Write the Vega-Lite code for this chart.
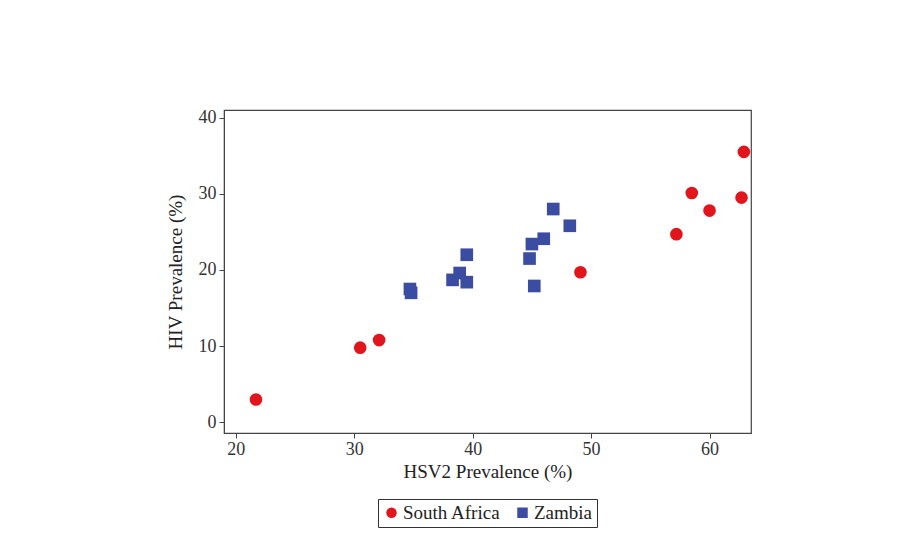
{
  "$schema": "https://vega.github.io/schema/vega-lite/v6.json",
  "autosize": "none",
  "width": 527,
  "height": 323,
  "padding": {"left": 224, "top": 110, "right": 156, "bottom": 114},
  "background": "white",
  "config": {
    "view": {"stroke": "#444", "strokeWidth": 1.2},
    "font": "Liberation Serif",
    "axis": {
      "grid": false,
      "domainColor": "#444",
      "tickColor": "#444",
      "tickSize": 5,
      "labelColor": "#333",
      "titleColor": "#222",
      "labelFontSize": 18,
      "titleFontSize": 19,
      "titleFontWeight": "normal",
      "labelFont": "Liberation Serif",
      "titleFont": "Liberation Serif"
    }
  },
  "data": {
    "values": [
      {"country": "South Africa", "hsv2": 21.7, "hiv": 3.0},
      {"country": "South Africa", "hsv2": 30.5, "hiv": 9.8},
      {"country": "South Africa", "hsv2": 32.1, "hiv": 10.8},
      {"country": "South Africa", "hsv2": 49.1, "hiv": 19.7},
      {"country": "South Africa", "hsv2": 57.2, "hiv": 24.7},
      {"country": "South Africa", "hsv2": 58.5, "hiv": 30.1},
      {"country": "South Africa", "hsv2": 60.0, "hiv": 27.8},
      {"country": "South Africa", "hsv2": 62.7, "hiv": 29.5},
      {"country": "South Africa", "hsv2": 62.9, "hiv": 35.5},
      {"country": "Zambia", "hsv2": 46.8, "hiv": 28.0},
      {"country": "Zambia", "hsv2": 48.2, "hiv": 25.8},
      {"country": "Zambia", "hsv2": 46.0, "hiv": 24.1},
      {"country": "Zambia", "hsv2": 45.0, "hiv": 23.4},
      {"country": "Zambia", "hsv2": 44.8, "hiv": 21.5},
      {"country": "Zambia", "hsv2": 45.2, "hiv": 17.9},
      {"country": "Zambia", "hsv2": 39.5, "hiv": 22.0},
      {"country": "Zambia", "hsv2": 38.9, "hiv": 19.6},
      {"country": "Zambia", "hsv2": 38.3, "hiv": 18.7},
      {"country": "Zambia", "hsv2": 39.5, "hiv": 18.4},
      {"country": "Zambia", "hsv2": 34.7, "hiv": 17.5},
      {"country": "Zambia", "hsv2": 34.8, "hiv": 17.0}
    ]
  },
  "mark": {"type": "point", "filled": true, "opacity": 1, "size": 160},
  "encoding": {
    "x": {
      "field": "hsv2", "type": "quantitative",
      "title": "HSV2 Prevalence (%)",
      "scale": {"domain": [19.0, 63.5], "nice": false, "zero": false},
      "axis": {"values": [20, 30, 40, 50, 60], "labelPadding": 2, "titlePadding": 4}
    },
    "y": {
      "field": "hiv", "type": "quantitative",
      "title": "HIV Prevalence (%)",
      "scale": {"domain": [-1.4, 41], "nice": false, "zero": false},
      "axis": {"values": [0, 10, 20, 30, 40], "labelPadding": 3, "titlePadding": 13}
    },
    "color": {
      "field": "country", "type": "nominal",
      "scale": {"domain": ["South Africa", "Zambia"], "range": ["#e2151d", "#3a4da2"]},
      "legend": {
        "title": null,
        "orient": "none",
        "legendX": 154,
        "legendY": 389,
        "direction": "horizontal",
        "strokeColor": "#333",
        "padding": 4,
        "labelFontSize": 19,
        "labelFont": "Liberation Serif",
        "labelColor": "#222",
        "symbolSize": 110,
        "symbolOpacity": 1,
        "columnPadding": 12,
        "labelOffset": 2
      }
    },
    "shape": {
      "field": "country", "type": "nominal",
      "scale": {"domain": ["South Africa", "Zambia"], "range": ["circle", "square"]}
    }
  }
}
